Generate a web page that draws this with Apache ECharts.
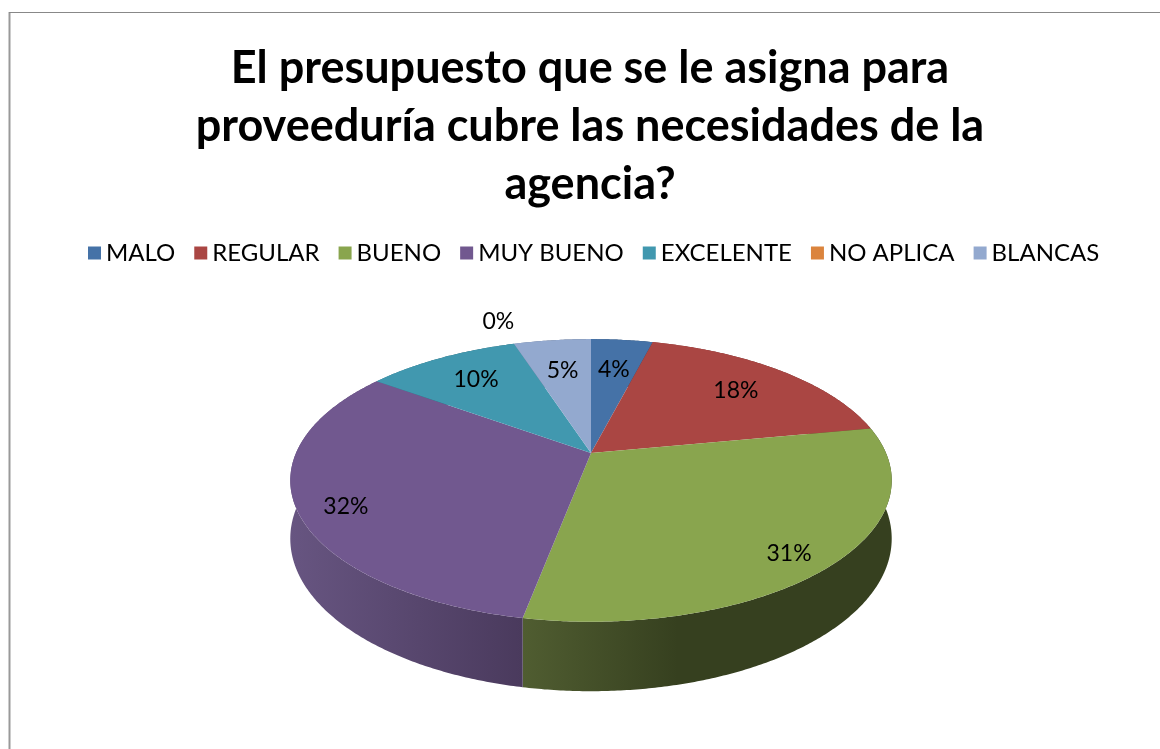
<!DOCTYPE html>
<html>
<head>
<meta charset="utf-8">
<title>Presupuesto proveeduría</title>
<style>
html, body { margin: 0; padding: 0; background: #fff; }
#chart { width: 1160px; height: 749px; }
</style>
<script src="https://cdn.jsdelivr.net/npm/echarts@6/dist/echarts.min.js"></script>
</head>
<body>
<div id="chart"></div>
<script>
// datos
var categories = ['MALO', 'REGULAR', 'BUENO', 'MUY BUENO', 'EXCELENTE', 'NO APLICA', 'BLANCAS'];
var percents = [4, 18, 31, 32, 10, 0, 5];

var colors = ['#4572A7', '#AA4643', '#89A54E', '#71588F', '#4198AF', '#DB843D', '#93A9CF'];
// pared lateral: [claro, oscuro]
var sideColors = [
  ['#3a5f8c', '#2c4868'], ['#8e3a37', '#6a2b29'], ['#505d31', '#36401f'],
  ['#675581', '#4a3a5d'], ['#367f92', '#285f6d'], ['#b76e33', '#895226'], ['#7b8dad', '#5c6a82']
];
var sideStop = [0.45, 0.45, 0.42, 1, 0.45, 0.45, 0.45];

var total = percents.reduce(function (a, b) { return a + b; }, 0);
var starts = [];
percents.reduce(function (acc, v, i) { starts[i] = acc; return acc + v; }, 0);

// pastel 3D: proyeccion en perspectiva de un disco inclinado
var cx = 591, cy = 453, rx = 295, ry = 136, k = 0.194, depth = 56;
function project(theta, r, down) {
  var u = r * Math.sin(theta), v = -r * Math.cos(theta);
  var w = 1 / (1 - k * v);
  return [cx + rx * u * w, cy + ry * v * w + (down ? depth * w : 0)];
}

function labelRadius(share) {
  if (share <= 0) return 1.25;
  if (share >= 0.2) return 0.84;
  if (share >= 0.08) return 0.74;
  return 0.7;
}

function makeRender(i) {
  return function (params, api) {
    var val = api.value(0);
    var a0 = starts[i] / total * Math.PI * 2;
    var a1 = (starts[i] + val) / total * Math.PI * 2;
    var children = [];
    if (a1 > a0) {
      var n = Math.max(2, Math.ceil((a1 - a0) / (Math.PI / 360)));
      var top = [], bottom = [];
      for (var j = 0; j <= n; j++) {
        var t = a0 + (a1 - a0) * j / n;
        top.push(project(t, 1, false));
        bottom.push(project(t, 1, true));
      }
      children.push({
        type: 'polygon', z2: 1,
        shape: { points: top.concat(bottom.slice().reverse()) },
        style: {
          fill: { type: 'linear', x: 0, y: 0, x2: 1, y2: 0,
            colorStops: [{ offset: 0, color: sideColors[i][0] }, { offset: sideStop[i], color: sideColors[i][1] }, { offset: 1, color: sideColors[i][1] }] }
        }
      });
      children.push({
        type: 'polygon', z2: 5,
        shape: { points: [project(0, 0, false)].concat(top) },
        style: { fill: colors[i] }
      });
    }
    var mid = (a0 + a1) / 2;
    var p = project(mid, labelRadius(val / total), false);
    var dy = val / total >= 0.2 ? 9 : 0;
    children.push({
      type: 'text', z2: 10,
      style: { text: Math.round(val / total * 100) + '%', x: p[0], y: p[1] + dy, align: 'center', verticalAlign: 'middle',
        font: '23px Lato', fill: '#000' }
    });
    return { type: 'group', children: children };
  };
}

var series = categories.map(function (name, i) {
  return {
    type: 'custom', name: name, coordinateSystem: 'none',
    itemStyle: { color: colors[i] },
    renderItem: makeRender(i),
    data: [[percents[i]]]
  };
});

var chart = echarts.init(document.getElementById('chart'));
chart.setOption({
  animation: false,
  legend: {
    top: 236, left: 83, icon: 'rect', itemWidth: 13, itemHeight: 13, itemGap: 19,
    textStyle: { fontFamily: 'Lato', fontSize: 24, color: '#000' },
    data: categories
  },
  graphic: [
    { type: 'line', shape: { x1: 9.5, y1: 12, x2: 9.5, y2: 760 }, style: { stroke: '#999', lineWidth: 2 } },
    { type: 'line', shape: { x1: 9, y1: 12.5, x2: 1170, y2: 12.5 }, style: { stroke: '#888', lineWidth: 1 } },
    {
      type: 'text', x: 590, y: 39,
      style: {
        text: 'El presupuesto que se le asigna para\nproveeduría cubre las necesidades de la\nagencia?',
        align: 'center', verticalAlign: 'top', fontFamily: 'Lato', fontWeight: 'bold', fontSize: 45,
        lineHeight: 58, fill: '#000'
      }
    }
  ],
  series: series
});
</script>
</body>
</html>
